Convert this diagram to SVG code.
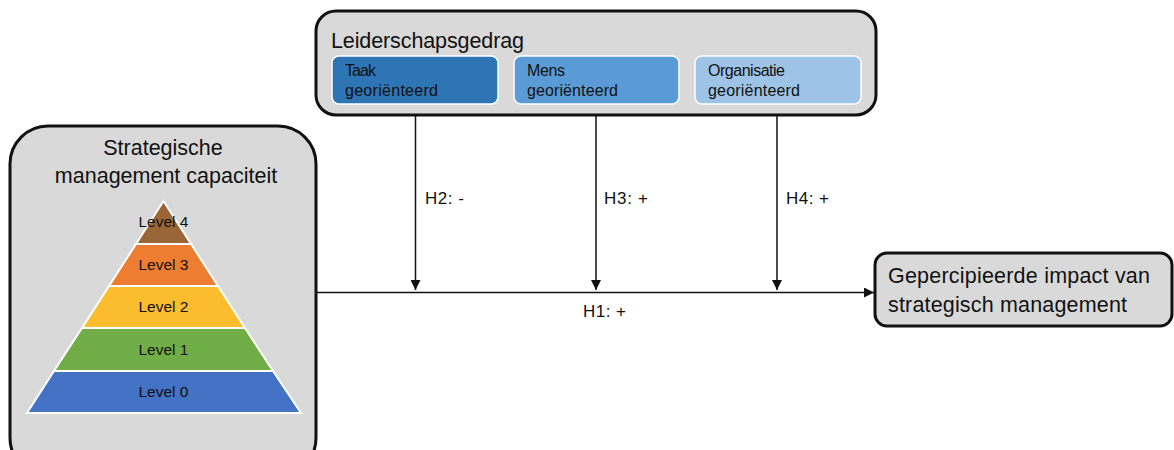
<svg xmlns="http://www.w3.org/2000/svg" width="1174" height="450" viewBox="0 0 1174 450">
<style>
.box{fill:#D9D9D9;stroke:#111;stroke-width:3}
.inner{stroke:#fff;stroke-width:1.5}
.t{font-family:"Liberation Sans",Arial,sans-serif;fill:#111}
.big{font-size:21.5px}
.sm{font-size:16px}
.hl{font-size:17px}
.lv{font-size:15.5px;text-anchor:middle}
.conn{stroke:#111;stroke-width:1.5;fill:none}
.lvl{stroke:#fff;stroke-width:2}
</style>
<defs>
<marker id="ah" viewBox="0 0 10 10" refX="10" refY="5" markerWidth="10" markerHeight="10" markerUnits="userSpaceOnUse" orient="auto">
<path d="M0,0 L10,5 L0,10 z" fill="#111"/>
</marker>
</defs>
<rect width="1174" height="450" fill="#fff"/>
<g id="connectors">
<line class="conn" x1="316" y1="292.5" x2="874" y2="292.5" marker-end="url(#ah)"/>
<line class="conn" x1="415.5" y1="104" x2="415.5" y2="290" marker-end="url(#ah)"/>
<line class="conn" x1="596" y1="104" x2="596" y2="290" marker-end="url(#ah)"/>
<line class="conn" x1="777" y1="104" x2="777" y2="290" marker-end="url(#ah)"/>
<text class="t hl" x="425" y="204" textLength="39">H2: -</text>
<text class="t hl" x="604" y="204" textLength="44">H3: +</text>
<text class="t hl" x="786" y="204" textLength="43">H4: +</text>
<text class="t hl" x="583" y="317" textLength="43">H1: +</text>
</g>
<g id="leiderschap">
<rect class="box" x="316" y="11" width="560" height="104" rx="20"/>
<text class="t big" x="331" y="48" textLength="193">Leiderschapsgedrag</text>
<g id="taak">
<rect class="inner" x="332" y="56" width="166" height="48" rx="7" fill="#2E75B6"/>
<text class="t sm" x="345" y="76" textLength="31">Taak</text>
<text class="t sm" x="345" y="96" textLength="93">georiënteerd</text>
</g>
<g id="mens">
<rect class="inner" x="514" y="56" width="165" height="48" rx="7" fill="#5B9BD5"/>
<text class="t sm" x="527" y="76" textLength="38">Mens</text>
<text class="t sm" x="527" y="96" textLength="91">georiënteerd</text>
</g>
<g id="organisatie">
<rect class="inner" x="695" y="56" width="166" height="48" rx="7" fill="#9DC3E6"/>
<text class="t sm" x="708" y="76" textLength="77">Organisatie</text>
<text class="t sm" x="708" y="96" textLength="92">georiënteerd</text>
</g>
</g>
<g id="capaciteit">
<rect class="box" x="10" y="126" width="306" height="350" rx="38"/>
<text class="t big" x="163" y="155" text-anchor="middle">Strategische</text>
<text class="t big" x="166" y="183" text-anchor="middle">management capaciteit</text>
<polygon class="lvl" points="27,413 301,413 273,371 54,371" fill="#4472C4"/>
<polygon class="lvl" points="54,371 273,371 245,328 82,328" fill="#70AD47"/>
<polygon class="lvl" points="82,328 245,328 218,286 109,286" fill="#FBBC2E"/>
<polygon class="lvl" points="109,286 218,286 191,244 136,244" fill="#ED7D31"/>
<polygon class="lvl" points="136,244 191,244 163.5,201" fill="#9A6638"/>
<text class="t lv" x="163.5" y="227">Level 4</text>
<text class="t lv" x="163.5" y="270">Level 3</text>
<text class="t lv" x="163.5" y="312">Level 2</text>
<text class="t lv" x="163.5" y="355">Level 1</text>
<text class="t lv" x="163.5" y="397">Level 0</text>
</g>
<g id="impact">
<rect class="box" x="875" y="253" width="297" height="73" rx="12"/>
<text class="t big" x="888" y="283" textLength="262">Gepercipieerde impact van</text>
<text class="t big" x="888" y="312" textLength="239">strategisch management</text>
</g>
</svg>
